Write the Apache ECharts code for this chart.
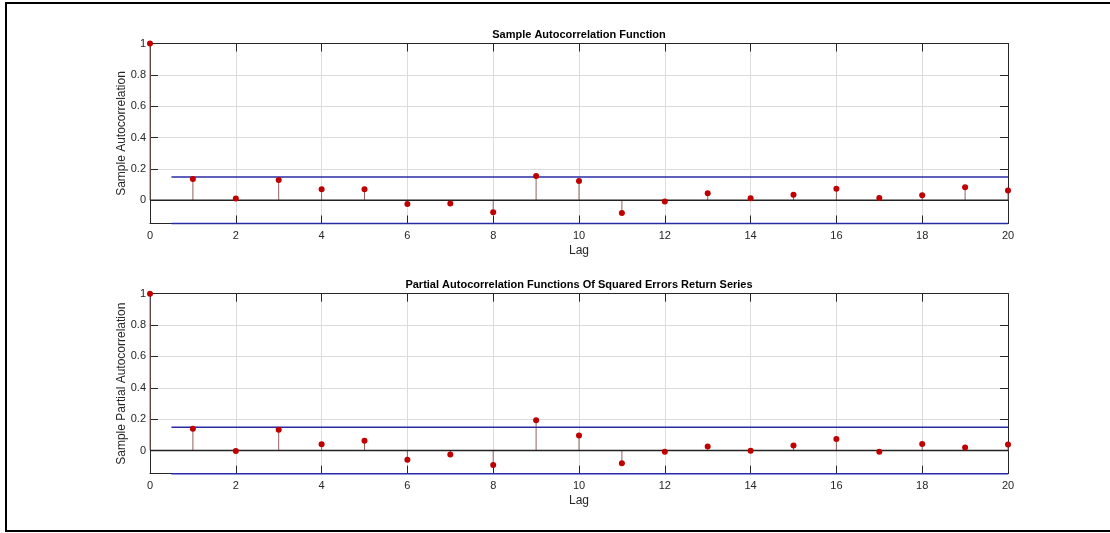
<!DOCTYPE html>
<html>
<head>
<meta charset="utf-8">
<title>Sample Autocorrelation Function</title>
<script src="https://cdn.jsdelivr.net/npm/echarts@6/dist/echarts.min.js"></script>
<style>
  html, body { margin: 0; padding: 0; background: #fff; }
  #chart { width: 1110px; height: 533px; }
</style>
</head>
<body>
<div id="chart"></div>
<script>
// Lags 0..20 and the estimated correlations at each lag
const lags = [0, 1, 2, 3, 4, 5, 6, 7, 8, 9, 10, 11, 12, 13, 14, 15, 16, 17, 18, 19, 20];
const acfValues = [1, 0.136, 0.011, 0.130, 0.070, 0.070, -0.023, -0.021, -0.076, 0.155, 0.123,
                   -0.081, -0.008, 0.045, 0.013, 0.036, 0.074, 0.015, 0.032, 0.083, 0.062];
const pacfValues = [1, 0.138, -0.004, 0.132, 0.040, 0.062, -0.059, -0.025, -0.093, 0.193, 0.096,
                    -0.081, -0.008, 0.025, -0.002, 0.032, 0.074, -0.008, 0.042, 0.019, 0.038];
// Approximate 95% confidence bounds (±2/sqrt(N))
const acfBound = 0.148;
const pacfBound = 0.148;
// Tick labels
const yTicks = [0, 0.2, 0.4, 0.6, 0.8, 1];
const panelTitles = ['Sample Autocorrelation Function',
                     'Partial Autocorrelation Functions Of Squared Errors Return Series'];
const yNames = ['Sample Autocorrelation', 'Sample Partial Autocorrelation'];
const xName = 'Lag';

const FONT = '"Liberation Sans", Arial, Helvetica, sans-serif';
const AXIS_COLOR = '#262626';
const GRID_COLOR = '#dcdcdc';
const STEM_COLOR = '#906464';
const MARK_COLOR = '#c00000';
const BOUND_COLOR = '#2a2aa6';

const panels = [
  { values: acfValues, bound: acfBound, top: 43.5 },
  { values: pacfValues, bound: pacfBound, top: 293.7 }
];

const grids = [], xAxes = [], yAxes = [], series = [], titles = [];

panels.forEach((p, i) => {
  grids.push({ left: 150, right: 102, top: p.top, height: 180, containLabel: false });
  titles.push({
    text: panelTitles[i], left: 579, top: p.top - 14.5, textAlign: 'center', padding: 0,
    textStyle: { fontFamily: FONT, fontSize: 11, fontWeight: 'bold', color: '#000' }
  });

  const xCommon = {
    gridIndex: i, type: 'value', min: 0, max: 20, interval: 2,
    axisLine: { show: true, onZero: false, lineStyle: { color: AXIS_COLOR, width: 1 } },
    axisTick: { show: true, inside: true, length: 8, lineStyle: { color: AXIS_COLOR } }
  };
  xAxes.push(Object.assign({}, xCommon, {
    position: 'bottom',
    name: xName, nameLocation: 'middle', nameGap: 21, nameMoveOverlap: false,
    nameTextStyle: { fontFamily: FONT, fontSize: 12, color: AXIS_COLOR },
    axisLabel: { show: true, margin: 7, fontFamily: FONT, fontSize: 11, color: AXIS_COLOR },
    splitLine: { show: true, lineStyle: { color: GRID_COLOR, width: 1 } }
  }));
  xAxes.push(Object.assign({}, xCommon, {
    position: 'top', axisLabel: { show: false }, splitLine: { show: false }
  }));

  const yCommon = {
    gridIndex: i, type: 'value', min: -p.bound, max: 1,
    axisLine: { show: true, onZero: false, lineStyle: { color: AXIS_COLOR, width: 1 } },
    axisTick: { show: true, inside: true, length: 8, customValues: yTicks, lineStyle: { color: AXIS_COLOR } }
  };
  yAxes.push(Object.assign({}, yCommon, {
    position: 'left',
    name: yNames[i], nameLocation: 'middle', nameGap: 22, nameRotate: 90, nameMoveOverlap: false,
    nameTextStyle: { fontFamily: FONT, fontSize: 12, color: AXIS_COLOR },
    axisLabel: { show: true, margin: 4, customValues: yTicks, fontFamily: FONT, fontSize: 11, color: AXIS_COLOR },
    splitLine: { show: true, lineStyle: { color: GRID_COLOR, width: 1 } }
  }));
  yAxes.push(Object.assign({}, yCommon, {
    position: 'right', axisLabel: { show: false }, splitLine: { show: false }
  }));

  const pts = lags.map((lag, k) => [lag, p.values[k]]);
  const xi = i * 2, yi = i * 2;

  // Stems from zero to each correlation
  series.push({
    type: 'custom', xAxisIndex: xi, yAxisIndex: yi, data: pts, clip: false, z: 2,
    renderItem: (params, api) => {
      const a = api.coord([api.value(0), 0]);
      const b = api.coord([api.value(0), api.value(1)]);
      return {
        type: 'line',
        shape: { x1: a[0], y1: a[1], x2: b[0], y2: b[1] },
        style: { stroke: STEM_COLOR, lineWidth: 1 }
      };
    }
  });
  // Zero reference line
  series.push({
    type: 'line', xAxisIndex: xi, yAxisIndex: yi, data: [[0, 0], [20, 0]],
    symbol: 'none', silent: true, clip: false, z: 3,
    lineStyle: { color: '#222', width: 1.5 }
  });
  // Confidence bounds
  [p.bound, -p.bound].forEach(b => {
    series.push({
      type: 'line', xAxisIndex: xi, yAxisIndex: yi, data: [[0.5, b], [20, b]],
      symbol: 'none', silent: true, clip: false, z: 3,
      lineStyle: { color: BOUND_COLOR, width: 1.5 }
    });
  });
  // Markers at stem heads
  series.push({
    type: 'scatter', xAxisIndex: xi, yAxisIndex: yi, data: pts, clip: false, z: 4,
    symbol: 'circle', symbolSize: 6,
    itemStyle: { color: MARK_COLOR, opacity: 1 }
  });
});

const chart = echarts.init(document.getElementById('chart'), null, { renderer: 'canvas' });
chart.setOption({
  animation: false,
  backgroundColor: '#ffffff',
  title: titles,
  grid: grids,
  xAxis: xAxes,
  yAxis: yAxes,
  series: series,
  graphic: [{
    type: 'rect', silent: true, z: 100,
    shape: { x: 6, y: 3, width: 1120, height: 528 },
    style: { fill: 'none', stroke: '#000', lineWidth: 2 }
  }]
});
</script>
</body>
</html>
